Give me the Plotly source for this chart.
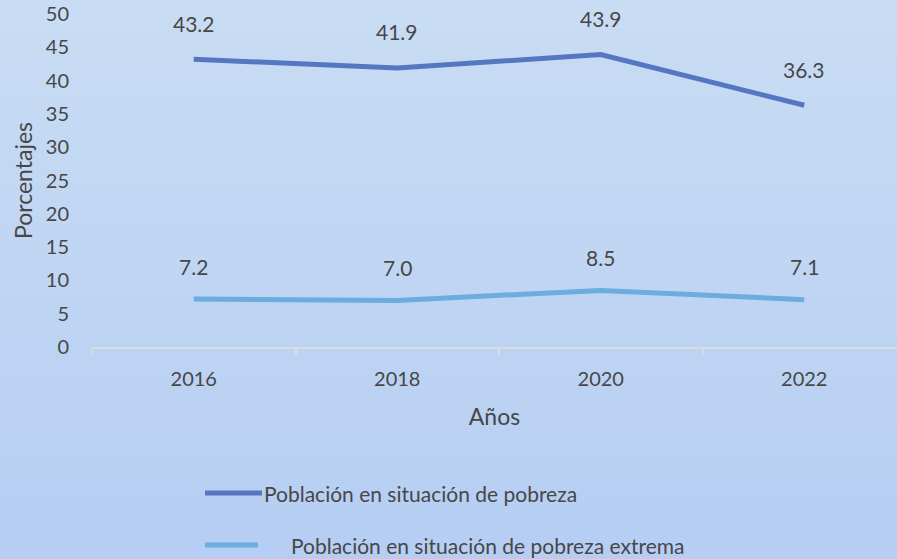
import plotly.graph_objects as go

years = ["2016", "2018", "2020", "2022"]
pobreza = [43.2, 41.9, 43.9, 36.3]
pobreza_extrema = [7.2, 7.0, 8.5, 7.1]
series_names = ["Población en situación de pobreza",
                "Población en situación de pobreza extrema"]
y_ticks = [0, 5, 10, 15, 20, 25, 30, 35, 40, 45, 50]

FONT = "Lato"
TXT = "#474747"
C1 = "#5577c1"
C2 = "#6aaddf"

fig = go.Figure()
fig.add_trace(go.Scatter(x=years, y=pobreza, mode="lines", name=series_names[0],
                         line=dict(color=C1, width=5), showlegend=False))
fig.add_trace(go.Scatter(x=years, y=pobreza_extrema, mode="lines", name=series_names[1],
                         line=dict(color=C2, width=5), showlegend=False))

annotations = []
for i, v in enumerate(pobreza):
    annotations.append(dict(x=i, y=v, xref="x", yref="y", text=f"{v:.1f}", showarrow=False,
                            yshift=36, font=dict(family=FONT, size=21, color=TXT)))
for i, v in enumerate(pobreza_extrema):
    annotations.append(dict(x=i, y=v, xref="x", yref="y", text=f"{v:.1f}", showarrow=False,
                            yshift=33, font=dict(family=FONT, size=21, color=TXT)))

W, H, L, T = 897, 559, 92, 14
PW = W - L
PH = 347 - T
def px_x(x):
    return (x - L) / PW
def px_y(y):
    return (347 - y) / PH

shapes = []
# gradient background
n = 40
top = (200, 220, 243)
bot = (182, 206, 243)
for i in range(n):
    t = i / (n - 1)
    c = tuple(round(top[k] + (bot[k] - top[k]) * t) for k in range(3))
    shapes.append(dict(type="rect", xref="paper", yref="paper", layer="below",
                       x0=px_x(0), x1=px_x(W), y0=px_y(H * (i + 1) / n + 1), y1=px_y(H * i / n),
                       fillcolor=f"rgb{c}", line=dict(width=0)))

# manual legend
leg = [(493, 205, 262, 262), (545, 205, 258, 289)]
for (yy, x0, x1, tx), name, col in zip(leg, series_names, [C1, C2]):
    shapes.append(dict(type="line", xref="paper", yref="paper",
                       x0=px_x(x0), x1=px_x(x1), y0=px_y(yy), y1=px_y(yy),
                       line=dict(color=col, width=5)))
    annotations.append(dict(xref="paper", yref="paper", x=px_x(tx), y=px_y(yy),
                            xanchor="left", yanchor="middle", text=name, showarrow=False,
                            font=dict(family=FONT, size=21, color=TXT)))

fig.update_layout(
    width=W, height=H,
    margin=dict(l=L, r=0, t=T, b=H - 347),
    paper_bgcolor="#c0d6f2",
    plot_bgcolor="rgba(0,0,0,0)",
    font=dict(family=FONT, size=20, color=TXT),
    showlegend=False,
    shapes=shapes,
    annotations=annotations,
    xaxis=dict(type="category", range=[-0.5, -0.5 + PW / 203.5],
               showline=True, linecolor="#dcdcdc", linewidth=2,
               ticks="outside", ticklen=6, tickwidth=2, tickcolor="#dcdcdc",
               tickson="boundaries", showgrid=False, zeroline=False,
               ticklabelstandoff=13,
               tickfont=dict(family=FONT, size=20, color=TXT),
               title=dict(text="Años", standoff=20,
                          font=dict(family=FONT, size=23, color=TXT))),
    yaxis=dict(range=[0, 50], tickvals=y_ticks, showgrid=False, zeroline=False,
               showline=False, ticks="", ticklabelstandoff=22,
               tickfont=dict(family=FONT, size=20, color=TXT),
               title=dict(text="Porcentajes", standoff=6,
                          font=dict(family=FONT, size=23, color=TXT))),
)

fig.write_html("out.html", config={"displayModeBar": False},
               post_script="document.body.style.margin='0';document.body.style.overflow='hidden';")
